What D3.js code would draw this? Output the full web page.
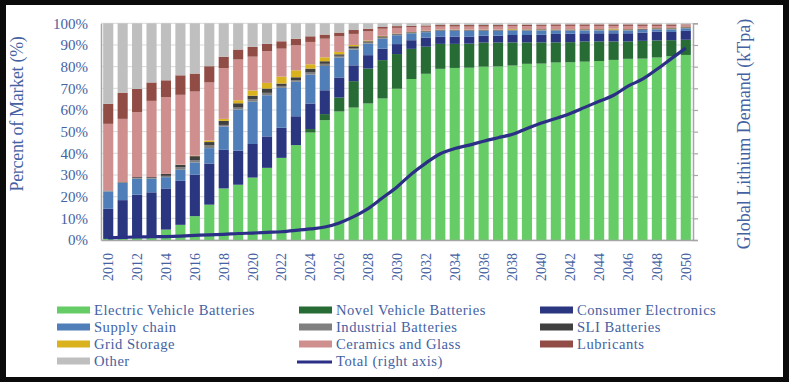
<!DOCTYPE html>
<html><head><meta charset="utf-8">
<script src="https://cdn.jsdelivr.net/npm/d3@7"></script>
<style>
html,body{margin:0;padding:0;background:#0b0b0b;}
svg{display:block;}
</style></head>
<body>
<svg id="chart" width="789" height="382"></svg>
<script>
const years = d3.range(2010, 2051);
const seriesNames = ["Electric Vehicle Batteries","Novel Vehicle Batteries","Consumer Electronics","Supply chain","Industrial Batteries","SLI Batteries","Grid Storage","Ceramics and Glass","Lubricants","Other"];
const seriesKeys = ["ev","nvb","ce","sc","ind","sli","grid","cer","lub","oth"];
const colors = ["#66cc66","#276b35","#2b3680","#4f7eb8","#808080","#404040","#d9b21e","#cf8f8f","#914d45","#bfbfbf"];

// Percent of market, per year 2010..2050
const ev   = [0.5,0.5,1.5,1.0,4.8,7.0,11.0,16.3,23.8,25.5,28.8,33.3,37.9,43.8,49.6,55.3,59.3,61.1,63.0,65.3,69.8,74.3,76.7,79.0,79.4,79.5,80.0,80.1,80.5,81.3,81.4,81.9,82.0,82.3,82.6,83.1,83.6,83.7,84.2,85.0,85.4];
const nvb  = [0,0,0,0,0,0,0,0,0,0,0,0,0,0,1.6,2.8,6.4,12.2,16.1,17.7,16.0,13.9,12.5,11.5,11.1,11.1,11.1,11.0,10.7,9.9,9.8,9.3,9.3,9.3,9.0,8.5,8.0,8.2,7.9,7.4,7.0];
const ce   = [13.9,17.9,19.4,21.0,19.0,20.3,19.1,19.0,17.8,15.7,15.5,14.5,13.9,13.3,11.8,11.0,9.3,7.3,6.2,5.3,4.6,4.0,4.2,3.4,3.4,3.3,3.2,3.2,3.4,3.4,3.5,3.9,3.9,3.8,3.8,3.8,3.8,3.8,4.1,3.8,4.1];
const sc   = [8.0,7.9,7.4,6.3,5.2,5.1,5.7,7.1,10.8,19.0,19.5,19.0,18.4,15.9,13.3,11.2,9.2,7.3,5.3,4.6,4.1,3.2,2.5,2.6,2.6,2.6,2.2,2.2,2.0,2.0,2.0,1.5,1.4,1.3,1.3,1.2,1.3,1.2,1.0,1.2,1.2];
const ind  = [0.2,0.2,0.3,0.3,0.6,1.1,1.1,1.2,0.7,0.9,1.2,1.1,0.9,0.8,1.0,1.0,0.8,0.7,0.5,0.5,0.3,0.2,0.3,0.2,0.2,0.2,0.2,0.2,0.2,0.2,0.2,0.2,0.2,0.2,0.2,0.2,0.2,0.2,0.2,0.2,0.2];
const sli  = [0.2,0.2,0.4,0.4,0.9,1.2,1.8,1.6,1.9,2.0,1.6,2.0,1.1,1.3,1.8,1.2,0.7,0.8,0.6,0.6,0.4,0.3,0.3,0.3,0.3,0.3,0.3,0.3,0.3,0.3,0.3,0.3,0.3,0.3,0.3,0.3,0.3,0.3,0.3,0.3,0.3];
const grid = [0,0,0,0,0,0.1,0.2,0.7,0.9,1.4,2.4,2.6,3.2,3.2,2.0,1.8,1.1,0.6,0.3,0.2,0.1,0.1,0.1,0.1,0.1,0.1,0.1,0.1,0.3,0.1,0.1,0.1,0.1,0.1,0.1,0.4,0.1,0.1,0.1,0.1,0.1];
const cer  = [30.8,29.2,30.0,35.2,35.4,32.2,29.6,26.8,23.4,18.8,15.6,14.6,12.9,11.6,10.3,8.6,7.2,5.1,4.3,3.3,2.6,2.2,1.8,1.4,1.4,1.4,1.4,1.4,1.4,1.5,1.5,1.6,1.6,1.5,1.5,1.3,1.5,1.3,1.0,1.0,0.8];
const lub  = [9.2,12.1,10.7,8.5,7.8,9.0,8.3,7.5,5.3,4.6,4.5,3.4,3.4,3.0,2.6,1.9,1.7,1.8,1.2,0.8,0.8,0.6,0.6,0.7,0.7,0.7,0.7,0.7,0.6,0.7,0.6,0.7,0.7,0.7,0.7,0.7,0.7,0.7,0.7,0.7,0.4];
const oth  = [37.2,32.0,30.3,27.3,26.3,24.0,23.2,19.8,15.4,12.1,10.9,9.5,8.3,7.1,6.0,5.2,4.3,3.1,2.5,1.7,1.3,1.2,1.0,0.8,0.8,0.8,0.8,0.8,0.6,0.6,0.6,0.5,0.5,0.5,0.5,0.5,0.5,0.5,0.5,0.5,0.5];
// Total lithium demand (right axis, unlabeled)
const total = [1.0,1.2,1.4,1.5,1.6,1.8,2.1,2.4,2.6,3.0,3.2,3.5,3.8,4.4,5.1,6.0,7.9,10.8,14.5,19.5,24.5,30.5,35.5,39.8,42.2,43.8,45.6,47.2,48.8,51.5,54.0,56.1,58.4,61.2,64.0,66.8,71.0,74.2,78.8,83.7,88.6];
const yTickLabels = ["0%","10%","20%","30%","40%","50%","60%","70%","80%","90%","100%"];
const xTickYears = years.filter(y => y % 2 === 0);

const seriesArrays = [ev,nvb,ce,sc,ind,sli,grid,cer,lub,oth];
const table = years.map((yr,i) => {
  const row = {year: yr};
  seriesKeys.forEach((k,j) => row[k] = seriesArrays[j][i]);
  return row;
});

const svg = d3.select("#chart");
svg.append("rect").attr("x",6).attr("y",5).attr("width",777).attr("height",372).attr("fill","#fff");

const m = {left:101, right:693, top:23.3, bottom:240};
const x = d3.scaleBand().domain(years).range([m.left, m.right]).paddingInner(0.3).paddingOuter(0.15);
const y = d3.scaleLinear().domain([0,1]).range([m.bottom, m.top]);
const y2 = d3.scaleLinear().domain([0,100]).range([m.bottom, m.top]);

const textColor = "#4462a2";
const font = "'Liberation Serif','DejaVu Serif',serif";

// gridlines
svg.append("g").selectAll("line").data(d3.range(0,11)).join("line")
  .attr("x1", m.left).attr("x2", m.right)
  .attr("y1", d => y(d/10)).attr("y2", d => y(d/10))
  .attr("stroke", "#d9d9d9").attr("stroke-width", 1);

const stack = d3.stack().keys(seriesKeys).offset(d3.stackOffsetExpand);
const stacked = stack(table);

svg.append("g").selectAll("g").data(stacked).join("g")
  .attr("fill", (d,i) => colors[i])
  .selectAll("rect").data(d => d).join("rect")
  .attr("x", d => x(d.data.year))
  .attr("width", x.bandwidth())
  .attr("y", d => y(d[1]))
  .attr("height", d => Math.max(0, y(d[0]) - y(d[1])));

// axes
const yAxis = d3.axisLeft(y).tickValues(d3.range(0,11).map(d=>d/10)).tickSize(0).tickPadding(13)
  .tickFormat((d,i) => yTickLabels[i]);
const gy = svg.append("g").attr("transform", `translate(${m.left},0)`).call(yAxis);
gy.select(".domain").attr("stroke","#a6a6a6").attr("stroke-width",1.5);
gy.selectAll("text").attr("font-family", font).attr("font-size", 15).attr("fill", textColor);

const y2Axis = d3.axisRight(y2).ticks(10).tickSize(5).tickFormat("");
const gy2 = svg.append("g").attr("transform", `translate(${m.right},0)`).call(y2Axis);
gy2.select(".domain").attr("stroke","#a6a6a6").attr("stroke-width",1.5);
gy2.selectAll(".tick line").attr("stroke","#a6a6a6").attr("stroke-width",1.2);

const xAxis = d3.axisBottom(x).tickValues(xTickYears).tickSize(0).tickPadding(0);
const gx = svg.append("g").attr("transform", `translate(0,${m.bottom})`).call(xAxis);
gx.select(".domain").attr("stroke","#a6a6a6").attr("stroke-width",1.5);
gx.selectAll("text").attr("font-family", font).attr("font-size", 14).attr("fill", textColor)
  .attr("transform","rotate(-90)").attr("text-anchor","end").attr("x",-13).attr("y",0).attr("dy","0.35em");

// total line
const line = d3.line().x((d,i) => x(years[i]) + x.bandwidth()/2).y(d => y2(d)).curve(d3.curveMonotoneX);
svg.append("path").datum(total).attr("d", line).attr("fill","none")
  .attr("stroke","#2b2f86").attr("stroke-width",3.2).attr("stroke-linejoin","round");

// axis titles
svg.append("text").attr("transform","translate(23,114) rotate(-90)").attr("text-anchor","middle")
  .attr("font-family", font).attr("font-size", 18).attr("fill", textColor).attr("letter-spacing","-0.3")
  .text("Percent of Market (%)");
svg.append("text").attr("transform","translate(750,134) rotate(-90)").attr("text-anchor","middle")
  .attr("font-family", font).attr("font-size", 18).attr("fill", textColor)
  .text("Global Lithium Demand (kTpa)");

// legend
const legendItems = seriesNames.map((n,i) => ({name:n, color:colors[i], type:"rect"}));
legendItems.push({name:"Total (right axis)", color:"#2b2f86", type:"line"});
const colX = [57, 299, 540];
const rowY = [310, 327, 344, 361];
const lg = svg.append("g");
legendItems.forEach((d,i) => {
  const cx = colX[i % 3], cy = rowY[Math.floor(i/3)];
  if (d.type === "rect") {
    lg.append("rect").attr("x", cx).attr("y", cy-3.5).attr("width", 33).attr("height", 7).attr("fill", d.color);
  } else {
    lg.append("line").attr("x1", cx-2).attr("x2", cx+33).attr("y1", cy+1).attr("y2", cy+1)
      .attr("stroke", d.color).attr("stroke-width", 3);
  }
  lg.append("text").attr("x", cx+37).attr("y", cy).attr("dy","0.35em")
    .attr("font-family", font).attr("font-size", 14.6).attr("fill", textColor).attr("letter-spacing","0.5")
    .text(d.name);
});
</script>
</body></html>
